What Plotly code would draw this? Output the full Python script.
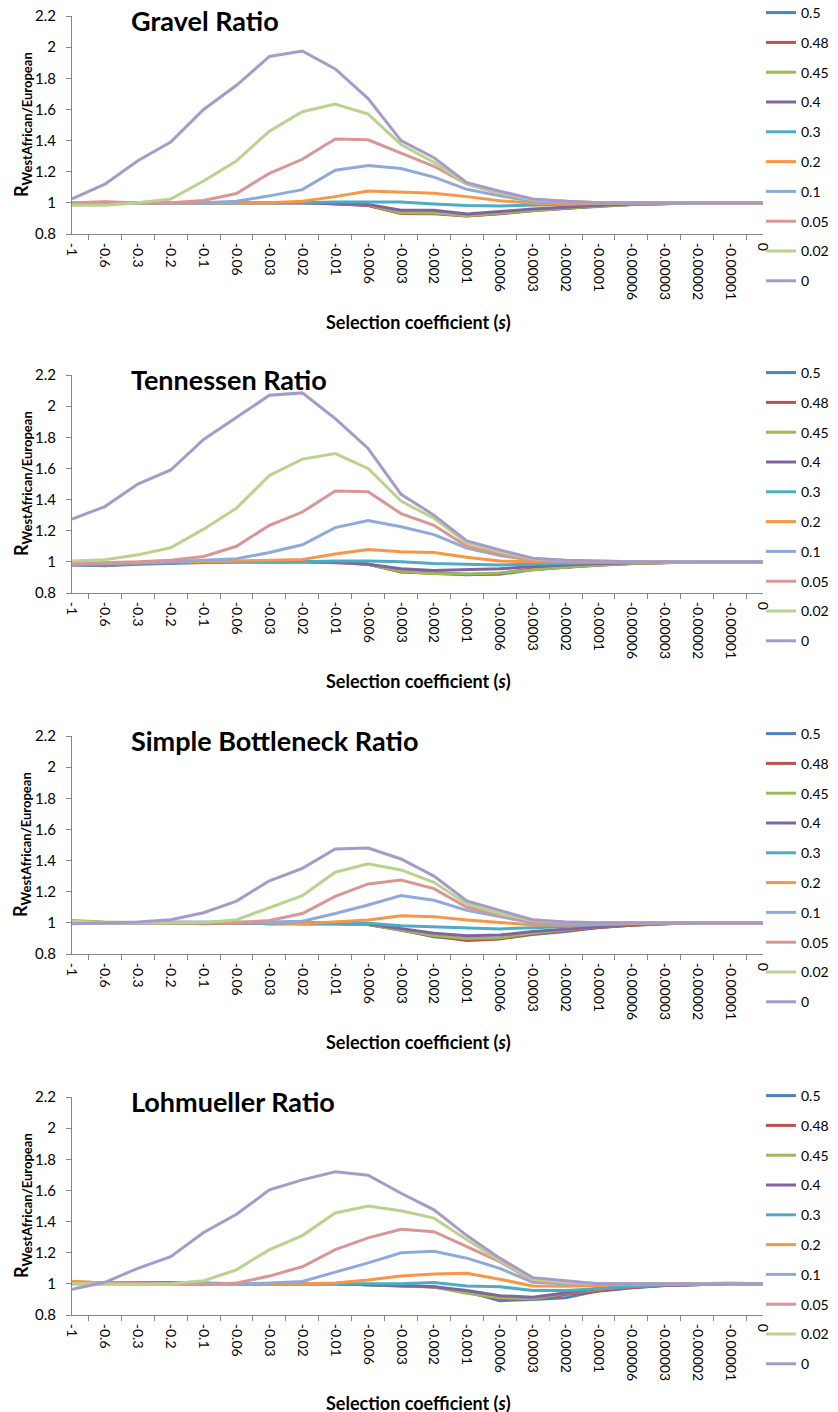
import plotly.graph_objects as go

categories = ["-1", "-0.6", "-0.3", "-0.2", "-0.1", "-0.06", "-0.03", "-0.02", "-0.01",
              "-0.006", "-0.003", "-0.002", "-0.001", "-0.0006", "-0.0003", "-0.0002",
              "-0.0001", "-0.00006", "-0.00003", "-0.00002", "-0.00001", "0"]

series_names = ["0.5", "0.48", "0.45", "0.4", "0.3", "0.2", "0.1", "0.05", "0.02", "0"]
series_colors = ["#4F81BD", "#C0504D", "#9BBB59", "#8064A2", "#4BACC6", "#F79646",
                 "#8EAADB", "#D99694", "#B9D38F", "#A999C8"]

panel_titles = ["Gravel Ratio", "Tennessen Ratio", "Simple Bottleneck Ratio", "Lohmueller Ratio"]

# Gravel
g_05 = [1.00, 1.00, 1.00, 1.00, 1.00, 1.00, 1.00, 1.00, 0.995, 0.985, 0.935, 0.935, 0.917, 0.932, 0.952, 0.965, 0.98, 0.99, 0.995, 1.00, 1.00, 1.00]
g_048 = [1.00, 1.005, 1.00, 1.00, 1.00, 1.00, 1.00, 1.00, 0.995, 0.983, 0.932, 0.93, 0.915, 0.93, 0.95, 0.965, 0.98, 0.99, 0.995, 1.00, 1.00, 1.00]
g_045 = [0.99, 0.99, 1.00, 1.00, 1.00, 1.00, 1.00, 1.00, 0.995, 0.988, 0.937, 0.935, 0.918, 0.935, 0.953, 0.967, 0.98, 0.99, 0.995, 1.00, 1.00, 1.00]
g_04 = [1.00, 1.00, 1.00, 1.00, 1.00, 1.00, 1.00, 1.00, 0.995, 0.99, 0.953, 0.953, 0.928, 0.945, 0.96, 0.972, 0.985, 0.993, 0.997, 1.00, 1.00, 1.00]
g_03 = [1.00, 1.00, 1.00, 1.00, 1.00, 1.00, 1.00, 1.00, 1.005, 1.007, 1.005, 0.993, 0.983, 0.98, 0.986, 0.99, 0.995, 1.00, 1.00, 1.00, 1.00, 1.00]
g_02 = [1.00, 1.00, 1.00, 1.00, 1.00, 1.00, 1.00, 1.01, 1.04, 1.076, 1.068, 1.061, 1.04, 1.014, 0.997, 0.992, 0.997, 1.00, 1.00, 1.00, 1.00, 1.00]
g_01 = [1.00, 1.00, 1.00, 1.00, 1.00, 1.01, 1.045, 1.085, 1.21, 1.24, 1.22, 1.165, 1.087, 1.045, 1.01, 1.00, 1.00, 1.00, 1.00, 1.00, 1.00, 1.00]
g_005 = [1.00, 1.00, 1.00, 1.00, 1.015, 1.06, 1.19, 1.28, 1.41, 1.405, 1.32, 1.235, 1.12, 1.06, 1.02, 1.01, 1.00, 1.00, 1.00, 1.00, 1.00, 1.00]
g_002 = [0.985, 0.985, 1.00, 1.025, 1.14, 1.27, 1.46, 1.585, 1.635, 1.57, 1.375, 1.26, 1.12, 1.065, 1.02, 1.01, 1.00, 1.00, 1.00, 1.00, 1.00, 1.00]
g_0 = [1.025, 1.12, 1.27, 1.39, 1.60, 1.755, 1.94, 1.975, 1.86, 1.67, 1.40, 1.29, 1.13, 1.075, 1.025, 1.01, 1.00, 1.00, 1.00, 1.00, 1.00, 1.00]

# Tennessen
t_05 = [0.98, 0.975, 0.985, 0.99, 0.995, 1.00, 1.00, 1.00, 1.00, 0.985, 0.94, 0.93, 0.92, 0.92, 0.95, 0.965, 0.98, 0.99, 0.995, 1.00, 1.00, 1.00]
t_048 = [0.985, 0.98, 0.99, 0.995, 1.00, 1.00, 1.00, 1.00, 0.995, 0.985, 0.935, 0.925, 0.918, 0.925, 0.955, 0.967, 0.98, 0.99, 0.995, 1.00, 1.00, 1.00]
t_045 = [0.985, 0.98, 0.99, 0.995, 1.00, 1.00, 1.00, 1.00, 1.00, 0.985, 0.94, 0.925, 0.922, 0.928, 0.95, 0.965, 0.98, 0.99, 0.995, 1.00, 1.00, 1.00]
t_04 = [0.985, 0.985, 0.99, 0.995, 1.00, 1.00, 1.00, 1.00, 1.00, 0.985, 0.955, 0.945, 0.95, 0.955, 0.97, 0.98, 0.99, 0.995, 1.00, 1.00, 1.00, 1.00]
t_03 = [0.98, 0.985, 0.99, 0.995, 1.00, 1.00, 1.00, 1.00, 1.005, 1.005, 1.00, 0.99, 0.985, 0.98, 0.985, 0.99, 0.995, 1.00, 1.00, 1.00, 1.00, 1.00]
t_02 = [0.99, 0.99, 0.995, 1.00, 1.00, 1.005, 1.01, 1.015, 1.05, 1.08, 1.065, 1.06, 1.03, 1.005, 1.00, 1.00, 1.00, 1.00, 1.00, 1.00, 1.00, 1.00]
t_01 = [0.985, 0.99, 0.995, 1.00, 1.01, 1.02, 1.06, 1.11, 1.22, 1.265, 1.225, 1.175, 1.088, 1.04, 1.01, 1.00, 1.00, 1.00, 1.00, 1.00, 1.00, 1.00]
t_005 = [0.99, 0.995, 1.00, 1.01, 1.035, 1.10, 1.235, 1.32, 1.455, 1.45, 1.31, 1.235, 1.10, 1.05, 1.01, 1.005, 1.00, 1.00, 1.00, 1.00, 1.00, 1.00]
t_002 = [1.005, 1.013, 1.045, 1.09, 1.21, 1.345, 1.555, 1.66, 1.695, 1.60, 1.39, 1.28, 1.12, 1.065, 1.02, 1.01, 1.005, 1.00, 1.00, 1.00, 1.00, 1.00]
t_0 = [1.274, 1.355, 1.50, 1.59, 1.786, 1.927, 2.07, 2.085, 1.92, 1.728, 1.434, 1.30, 1.134, 1.077, 1.023, 1.01, 1.005, 1.00, 1.00, 1.00, 1.00, 1.00]

# Simple Bottleneck
sb_05 = [1.01, 1.00, 1.00, 1.00, 1.00, 1.00, 1.00, 0.995, 0.995, 0.99, 0.955, 0.91, 0.895, 0.90, 0.925, 0.945, 0.97, 0.985, 0.995, 1.00, 1.00, 1.00]
sb_048 = [1.005, 1.00, 1.00, 1.00, 0.995, 1.00, 0.995, 0.995, 0.995, 0.99, 0.952, 0.915, 0.887, 0.897, 0.93, 0.95, 0.97, 0.985, 0.995, 1.00, 1.00, 1.00]
sb_045 = [1.015, 1.005, 1.00, 1.00, 1.00, 1.00, 1.00, 0.995, 0.995, 0.99, 0.955, 0.918, 0.90, 0.905, 0.935, 0.955, 0.975, 0.99, 0.995, 1.00, 1.00, 1.00]
sb_04 = [1.00, 1.00, 1.00, 1.00, 1.00, 1.00, 1.00, 1.00, 1.00, 0.993, 0.965, 0.933, 0.918, 0.922, 0.944, 0.96, 0.975, 0.99, 0.995, 1.00, 1.00, 1.00]
sb_03 = [1.00, 1.00, 1.00, 1.00, 1.00, 1.00, 0.995, 0.995, 0.995, 0.997, 0.982, 0.974, 0.965, 0.961, 0.969, 0.976, 0.99, 0.995, 1.00, 1.00, 1.00, 1.00]
sb_02 = [1.00, 1.00, 1.00, 1.00, 1.00, 1.00, 1.00, 0.995, 1.005, 1.019, 1.046, 1.04, 1.019, 1.004, 0.987, 0.985, 0.99, 0.995, 1.00, 1.00, 1.00, 1.00]
sb_01 = [1.00, 1.00, 1.00, 1.005, 1.005, 1.005, 1.005, 1.01, 1.06, 1.115, 1.175, 1.145, 1.08, 1.04, 1.00, 0.995, 0.995, 1.00, 1.00, 1.00, 1.00, 1.00]
sb_005 = [1.00, 1.00, 1.00, 1.00, 1.00, 1.00, 1.015, 1.06, 1.17, 1.25, 1.275, 1.22, 1.10, 1.05, 1.01, 1.00, 1.00, 1.00, 1.00, 1.00, 1.00, 1.00]
sb_002 = [1.01, 1.00, 1.00, 1.00, 1.00, 1.02, 1.10, 1.175, 1.325, 1.38, 1.34, 1.26, 1.12, 1.06, 1.015, 1.005, 1.00, 1.00, 1.00, 1.00, 1.00, 1.00]
sb_0 = [0.995, 1.00, 1.005, 1.02, 1.065, 1.14, 1.27, 1.35, 1.475, 1.48, 1.41, 1.30, 1.14, 1.08, 1.02, 1.005, 1.00, 1.00, 1.00, 1.00, 1.00, 1.00]

# Lohmueller
lo_05 = [1.01, 1.005, 1.005, 1.005, 1.00, 1.00, 1.00, 1.00, 1.00, 0.995, 0.99, 0.982, 0.95, 0.892, 0.90, 0.91, 0.955, 0.975, 0.99, 0.995, 1.00, 1.00]
lo_048 = [1.01, 1.005, 1.005, 1.005, 1.00, 1.00, 1.00, 1.00, 1.00, 0.995, 0.99, 0.98, 0.945, 0.903, 0.905, 0.932, 0.955, 0.975, 0.99, 0.995, 1.00, 1.00]
lo_045 = [1.015, 1.005, 1.00, 1.00, 1.00, 1.00, 1.00, 1.00, 1.00, 0.995, 0.985, 0.98, 0.94, 0.91, 0.905, 0.94, 0.965, 0.985, 0.99, 0.995, 1.00, 1.00]
lo_04 = [1.005, 1.005, 1.005, 1.005, 1.005, 1.00, 1.00, 1.00, 1.00, 0.995, 0.99, 0.982, 0.957, 0.924, 0.914, 0.94, 0.97, 0.985, 0.99, 0.995, 1.00, 1.00]
lo_03 = [1.00, 1.00, 1.00, 1.00, 1.00, 1.00, 1.00, 1.00, 1.00, 0.997, 1.00, 1.008, 0.987, 0.982, 0.957, 0.957, 0.97, 0.985, 0.995, 1.00, 1.00, 1.00]
lo_02 = [1.015, 1.005, 1.00, 1.00, 1.00, 1.00, 1.00, 1.00, 1.005, 1.025, 1.051, 1.064, 1.068, 1.03, 0.987, 0.985, 0.99, 1.00, 1.00, 1.00, 1.00, 1.00]
lo_01 = [1.00, 1.00, 1.00, 1.00, 1.00, 1.00, 1.005, 1.015, 1.075, 1.135, 1.20, 1.21, 1.165, 1.10, 1.01, 1.00, 1.00, 1.00, 1.00, 1.00, 1.005, 1.00]
lo_005 = [1.005, 1.005, 1.005, 1.00, 0.995, 1.005, 1.05, 1.11, 1.22, 1.295, 1.35, 1.335, 1.24, 1.143, 1.02, 1.005, 1.00, 1.00, 1.00, 1.00, 1.00, 1.00]
lo_002 = [1.00, 1.00, 0.995, 1.00, 1.02, 1.09, 1.22, 1.31, 1.455, 1.50, 1.47, 1.422, 1.283, 1.15, 1.03, 1.01, 1.00, 1.00, 1.00, 1.00, 1.00, 1.00]
lo_0 = [0.965, 1.01, 1.10, 1.175, 1.33, 1.447, 1.604, 1.668, 1.72, 1.698, 1.582, 1.475, 1.31, 1.165, 1.04, 1.02, 1.00, 1.00, 1.00, 1.00, 1.00, 1.00]

panels = [
    [g_05, g_048, g_045, g_04, g_03, g_02, g_01, g_005, g_002, g_0],
    [t_05, t_048, t_045, t_04, t_03, t_02, t_01, t_005, t_002, t_0],
    [sb_05, sb_048, sb_045, sb_04, sb_03, sb_02, sb_01, sb_005, sb_002, sb_0],
    [lo_05, lo_048, lo_045, lo_04, lo_03, lo_02, lo_01, lo_005, lo_002, lo_0],
]

W, H = 838, 1412
OFF = 8  # page body margin compensation
FONT = "Lato, Carlito, Calibri, 'Open Sans', sans-serif"
AXIS_COLOR = "#868686"
panel_tops = [16, 375, 736, 1097]
legend_first = [14, 372, 733, 1094]
legend_adj = [17, 15, 15, 14]
panel_h = 218
x_left, x_right = 72, 763


def fx(px):
    return (px - OFF) / W


def fy(py):
    return 1 - (py - OFF) / H


fig = go.Figure()
layout = dict(
    width=W, height=H,
    margin=dict(l=0, r=0, t=0, b=0, pad=0, autoexpand=False),
    paper_bgcolor="white", plot_bgcolor="white",
    font=dict(family=FONT, size=14, color="black"),
    annotations=[],
)

for p, data in enumerate(panels):
    k = p + 1
    xa = "x" if k == 1 else f"x{k}"
    ya = "y" if k == 1 else f"y{k}"
    lg = "legend" if k == 1 else f"legend{k}"
    for name, color, vals in zip(series_names, series_colors, data):
        fig.add_trace(go.Scatter(
            x=categories, y=vals, mode="lines", name=name,
            line=dict(color=color, width=3),
            xaxis=xa, yaxis=ya, legend=lg, legendgroup=f"p{k}_{name}",
            showlegend=True,
        ))
    top = panel_tops[p]
    bot = top + panel_h
    layout[f"xaxis{'' if k == 1 else k}"] = dict(
        domain=[fx(x_left), fx(x_right)], anchor=ya, type="category",
        categoryorder="array", categoryarray=categories, automargin=False,
        showline=True, linecolor=AXIS_COLOR, linewidth=1,
        ticks="outside", tickcolor=AXIS_COLOR, ticklen=5, tickson="boundaries",
        tickangle=90, ticklabelstandoff=5, ticklabeloverflow="allow",
        tickfont=dict(family=FONT, size=14, color="black"),
        showgrid=False, zeroline=False,
    )
    layout[f"yaxis{'' if k == 1 else k}"] = dict(
        domain=[fy(bot), fy(top)], anchor=xa, range=[0.8, 2.2], automargin=False,
        tick0=0.8, dtick=0.2,
        showline=True, linecolor=AXIS_COLOR, linewidth=1,
        ticks="outside", tickcolor=AXIS_COLOR, ticklen=5, ticklabelstandoff=7,
        ticklabeloverflow="allow",
        tickfont=dict(family=FONT, size=15, color="black"),
        showgrid=False, zeroline=False,
    )
    layout[lg] = dict(
        x=fx(761), xanchor="left", y=fy(legend_first[p] - legend_adj[p]), yanchor="top",
        bgcolor="rgba(0,0,0,0)", font=dict(family=FONT, size=14, color="black"),
        traceorder="grouped", tracegroupgap=8.6, itemwidth=30,
    )
    layout["annotations"].append(dict(
        text=f"<b>{panel_titles[p]}</b>", x=fx(129), y=fy(top + 4),
        xref="paper", yref="paper", xanchor="left", yanchor="middle",
        showarrow=False, font=dict(family=FONT, size=27, color="black"),
    ))
    layout["annotations"].append(dict(
        text="<b>Selection coefficient (<i>s</i>)</b>", x=fx(418), y=fy(bot + 88),
        xref="paper", yref="paper", xanchor="center", yanchor="middle",
        showarrow=False, font=dict(family=FONT, size=18, color="black"),
    ))
    layout["annotations"].append(dict(
        text="<b>R<sub><span style='font-size:13px'>WestAfrican/European</span></sub></b>",
        x=fx(22), y=fy(top + panel_h / 2),
        xref="paper", yref="paper", xanchor="center", yanchor="middle", textangle=-90,
        showarrow=False, font=dict(family=FONT, size=18, color="black"),
    ))

fig.update_layout(**layout)
fig.write_html("out.html")
